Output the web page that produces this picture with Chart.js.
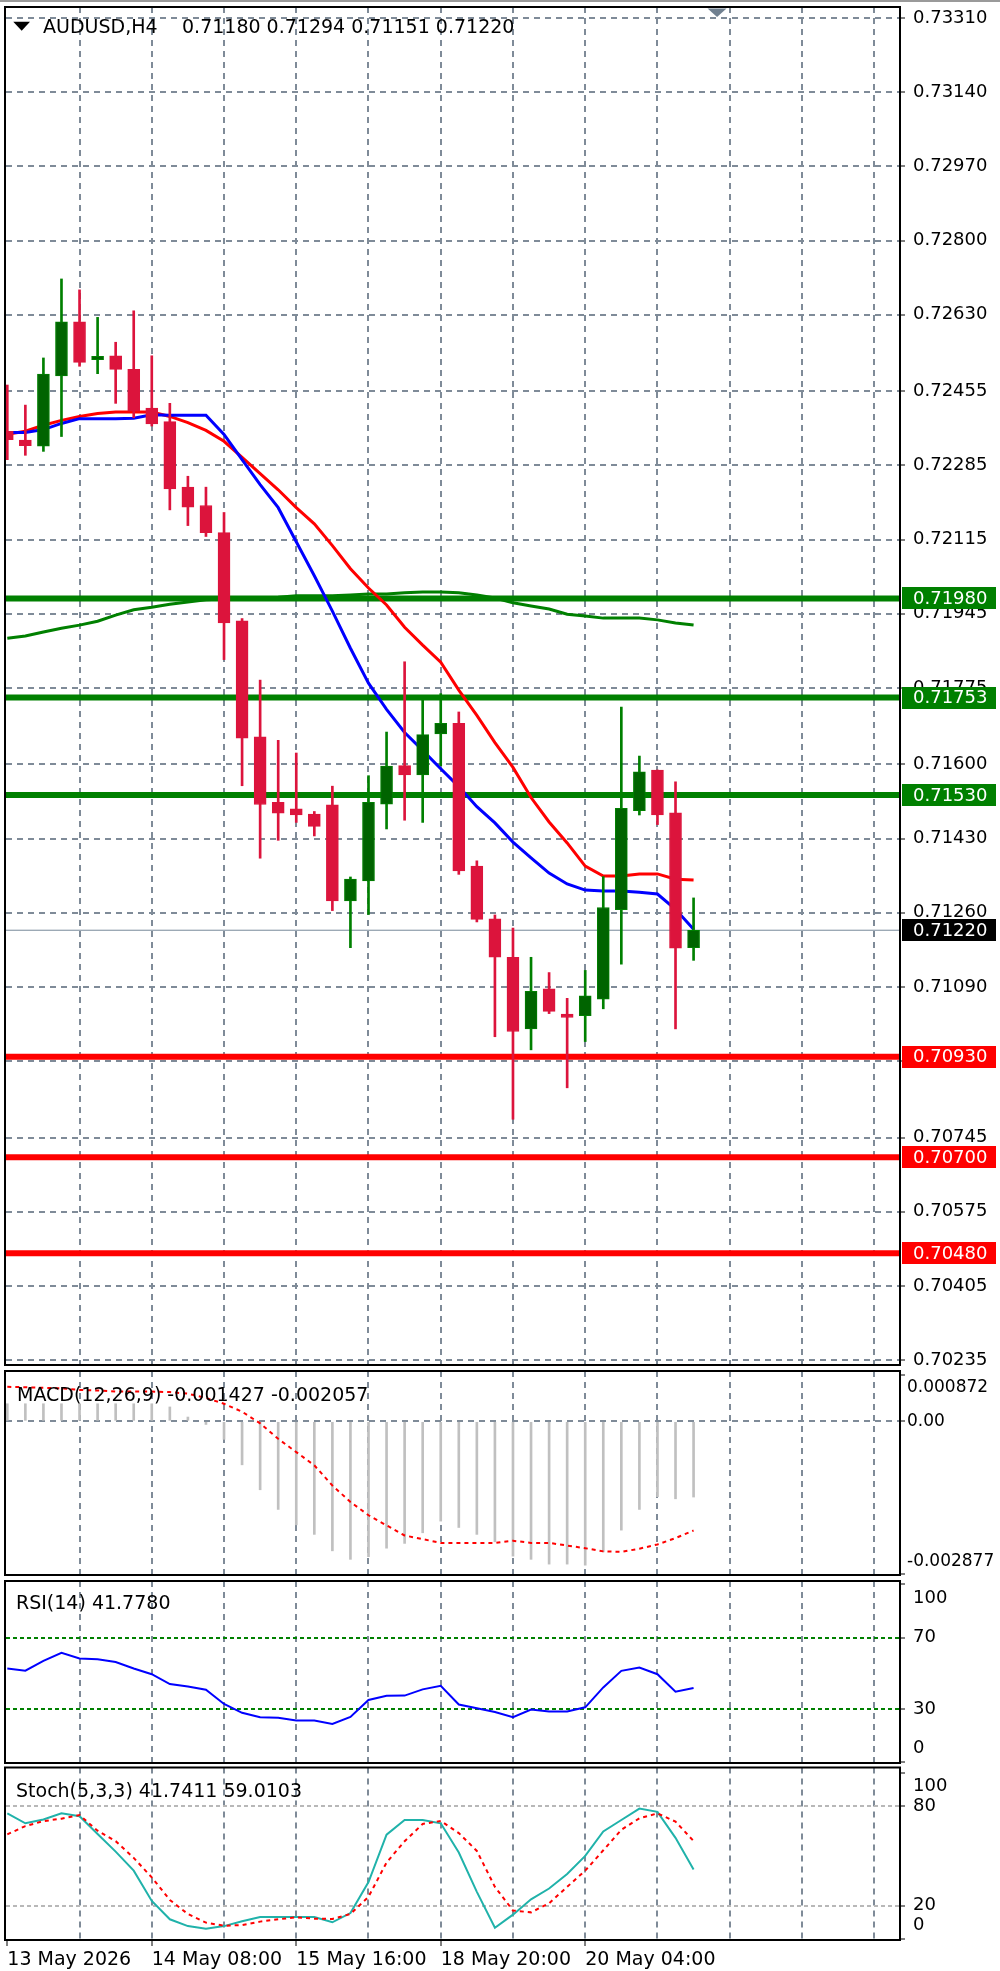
<!DOCTYPE html>
<html>
<head>
<meta charset="utf-8">
<script src="https://cdn.jsdelivr.net/npm/chart.js@4.4.1/dist/chart.umd.min.js"></script>
<style>
  html, body { margin: 0; padding: 0; background: #fff; }
  body { width: 1000px; height: 1971px; position: relative; overflow: hidden; }
  #topbar { position: absolute; left: 0; top: 0; width: 1000px; height: 2px; background: #9a9a9a; }
  canvas { position: absolute; left: 0; }
</style>
</head>
<body>
<div id="topbar"></div>
<canvas id="main" width="1000" height="1368" style="top:0"></canvas>
<canvas id="macd" width="1000" height="210" style="top:1368px"></canvas>
<canvas id="rsi" width="1000" height="187" style="top:1578px"></canvas>
<canvas id="stoch" width="1000" height="206" style="top:1765px"></canvas>
<script>
// AUDUSD H4, 39 candles from 13 May 2026 00:00
const opens  = [0.72363,0.72343,0.72329,0.72490,0.72614,0.72527,0.72536,0.72505,0.72416,0.72385,0.72235,0.72193,0.72131,0.71929,0.71663,0.71513,0.71498,0.71486,0.71507,0.71287,0.71333,0.71509,0.71597,0.71576,0.71670,0.71694,0.71367,0.71246,0.71158,0.70994,0.71086,0.71028,0.71024,0.71062,0.71267,0.71494,0.71587,0.71489,0.71180];
const highs  = [0.72469,0.72423,0.72531,0.72712,0.72687,0.72624,0.72567,0.72639,0.72536,0.72427,0.72260,0.72235,0.72177,0.71934,0.71793,0.71655,0.71626,0.71492,0.71550,0.71342,0.71574,0.71674,0.71835,0.71747,0.71762,0.71720,0.71379,0.71255,0.71225,0.71158,0.71123,0.71064,0.71128,0.71343,0.71731,0.71619,0.71587,0.71560,0.71294];
const lows   = [0.72298,0.72308,0.72317,0.72351,0.72512,0.72495,0.72427,0.72394,0.72375,0.72183,0.72147,0.72122,0.71840,0.71551,0.71385,0.71426,0.71467,0.71436,0.71265,0.71180,0.71256,0.71452,0.71472,0.71467,0.71597,0.71348,0.71239,0.70976,0.70787,0.70946,0.71029,0.70859,0.70965,0.71040,0.71142,0.71484,0.71462,0.70994,0.71151];
const closes = [0.72344,0.72330,0.72494,0.72614,0.72521,0.72535,0.72505,0.72409,0.72380,0.72231,0.72189,0.72131,0.71924,0.71660,0.71508,0.71488,0.71484,0.71458,0.71287,0.71337,0.71513,0.71596,0.71576,0.71668,0.71694,0.71356,0.71245,0.71158,0.70988,0.71080,0.71034,0.71020,0.71070,0.71272,0.71499,0.71583,0.71484,0.71179,0.71220];

// moving averages (blue, red, green)
const maFast = [0.72360,0.72360,0.72367,0.72381,0.72392,0.72392,0.72392,0.72393,0.72401,0.72400,0.72400,0.72400,0.72356,0.72298,0.72241,0.72188,0.72110,0.72032,0.71951,0.71866,0.71786,0.71726,0.71673,0.71632,0.71590,0.71549,0.71503,0.71466,0.71422,0.71386,0.71351,0.71326,0.71312,0.71310,0.71310,0.71307,0.71303,0.71268,0.71222];
const maMid  = [0.72356,0.72363,0.72377,0.72388,0.72397,0.72404,0.72407,0.72407,0.72407,0.72397,0.72383,0.72365,0.72340,0.72303,0.72266,0.72229,0.72188,0.72151,0.72101,0.72048,0.72004,0.71965,0.71914,0.71873,0.71834,0.71770,0.71712,0.71650,0.71593,0.71524,0.71468,0.71420,0.71367,0.71344,0.71344,0.71349,0.71349,0.71337,0.71335];
const maSlow = [0.71889,0.71894,0.71903,0.71912,0.71919,0.71928,0.71942,0.71954,0.71960,0.71967,0.71972,0.71977,0.71979,0.71981,0.71981,0.71983,0.71986,0.71986,0.71986,0.71988,0.71990,0.71990,0.71993,0.71995,0.71995,0.71993,0.71988,0.71981,0.71970,0.71963,0.71956,0.71944,0.71940,0.71935,0.71935,0.71935,0.71931,0.71924,0.71919];

const priceTicks = [0.73310,0.73140,0.72970,0.72800,0.72630,0.72455,0.72285,0.72115,0.71945,0.71775,0.71600,0.71430,0.71260,0.71090,0.70920,0.70745,0.70575,0.70405,0.70235];
const resistLevels = [0.71980, 0.71753, 0.71530];
const supportLevels = [0.70930, 0.70700, 0.70480];
const lastPrice = 0.71220;

const macdMain   = [0.00033,0.00033,0.00033,0.00033,0.00033,0.00033,0.00033,0.00033,0.00033,0.00027,0.00008,-0.00006,-0.00034,-0.00082,-0.00129,-0.00166,-0.00195,-0.00213,-0.00244,-0.00260,-0.00255,-0.00239,-0.00230,-0.00210,-0.00188,-0.00200,-0.00213,-0.00227,-0.00254,-0.00260,-0.00269,-0.00269,-0.00271,-0.00246,-0.00205,-0.00166,-0.00142,-0.00146,-0.001427];
const macdSignal = [0.00065,0.00064,0.00063,0.00062,0.00059,0.00058,0.00056,0.00056,0.00056,0.00055,0.00052,0.00044,0.00033,0.00018,-0.00004,-0.00033,-0.00058,-0.00083,-0.00121,-0.00152,-0.00177,-0.00196,-0.00215,-0.00222,-0.00229,-0.00229,-0.00229,-0.00229,-0.00225,-0.00229,-0.00229,-0.00234,-0.00239,-0.00245,-0.00246,-0.00240,-0.00232,-0.00220,-0.002057];
const macdTicks = [0.000872, 0, -0.002877];

const rsiVals = [52.7,51.5,57,61.5,58.3,57.9,56.4,52.7,49.5,44,42.6,40.8,32.8,27.8,25.3,25,23.5,23.5,21.6,25.5,35,37.4,37.5,41,43,32.5,30.4,28.3,25.3,29.6,28.5,28.5,30.9,42.1,51.4,53.3,49.5,39.7,41.78];
const rsiTicks = [100, 70, 30, 0];

const stochK = [75.7,69.7,72,75.7,74,63.2,52.6,41.1,22.8,11.7,7.6,6,7.6,10.5,13.1,13.1,13.1,13.1,9.9,15.5,34.2,62.8,71.7,71.7,69.7,52,28.3,6.6,14.5,23.8,30.3,39.1,50,64.8,71.7,78.6,76.6,60.9,41.74];
const stochD = [63,68,71,72.5,74.7,65.2,58.9,48.8,37,23.4,14.9,9.7,7.8,8.2,10.3,11.7,12.9,12.1,11.9,14.9,25.3,46,58.9,69.3,71.1,63.8,53,31.3,17,15.9,21.4,31.3,41.1,53.4,65.8,72.7,75.7,70.7,59.01];
const stochTicks = [100, 80, 20, 0];

const dateIdx = [0, 8, 16, 24, 32];
const dateLabels = ['13 May 2026', '14 May 08:00', '15 May 16:00', '18 May 20:00', '20 May 04:00'];

const X_MIN = -0.072, X_MAX = 49.43;
const SHIFT_AT = 39.3;
const gridIdx = [];
for (let v = 0; v <= 48; v += 4) gridIdx.push(v);

const FONT = "'DejaVu Sans', 'Liberation Sans', sans-serif";
const GRID = '#7f8b98';
const NONE = 'rgba(0,0,0,0)';
const BULL = '#006400', BULL_EDGE = '#008000', BEAR = '#dc143c';

Chart.defaults.font.family = FONT;

const pts = arr => arr.map((v, i) => ({ x: i, y: v }));
const hline = v => [{ x: X_MIN, y: v }, { x: X_MAX, y: v }];

function xScale(withLabels) {
  return {
    type: 'linear', min: X_MIN, max: X_MAX, offset: false,
    afterBuildTicks: s => { s.ticks = gridIdx.map(v => ({ value: v })); },
    afterFit: s => { s.height = withLabels ? 31 : 0; s.paddingLeft = 0; s.paddingRight = 0; },
    grid: {
      offset: false, lineWidth: 2,
      color: c => (c.tick && c.tick.value === 0) ? NONE : GRID,
      drawTicks: withLabels, tickLength: 6, tickWidth: 1, tickBorderDash: [],
      tickColor: c => (c.tick && dateIdx.includes(c.tick.value)) ? '#000' : NONE
    },
    border: { display: false, dash: [6, 5] },
    ticks: {
      display: withLabels, autoSkip: false, maxRotation: 0, minRotation: 0,
      align: 'start', padding: 3, color: '#000',
      font: { family: FONT, size: 19, lineHeight: 1.2 },
      callback: v => { const k = dateIdx.indexOf(v); return k >= 0 ? dateLabels[k] : ''; }
    }
  };
}

function yScale(min, max, ticks, fmt, gridColor, dash, size, pad) {
  return {
    position: 'right', min: min, max: max,
    afterBuildTicks: s => { s.ticks = ticks.map(v => ({ value: v })); },
    afterFit: s => { s.width = 100; s.paddingTop = 0; s.paddingBottom = 0; },
    grid: { lineWidth: 2, color: gridColor, tickLength: 5, tickWidth: 1, tickColor: '#000', tickBorderDash: [] },
    border: { display: false, dash: dash },
    ticks: { autoSkip: false, padding: pad || 8, color: '#000', font: { family: FONT, size: size || 18, lineHeight: 1.5 }, callback: fmt }
  };
}

// edge labels sit inside the panel like the terminal does
const edgeLabel = (top, bottom, text) => v => v === top ? ['', text(v)] : v === bottom ? [text(v), ''] : text(v);

function decor(cfg) {
  return {
    id: 'decor',
    afterDatasetsDraw(chart) {
      const { ctx, chartArea: ca } = chart;
      ctx.save();
      if (cfg.menuMark) {
        ctx.fillStyle = '#000';
        ctx.beginPath();
        ctx.moveTo(ca.left + 7.3, ca.top + 14.7);
        ctx.lineTo(ca.left + 24, ca.top + 14.7);
        ctx.lineTo(ca.left + 15.7, ca.top + 23.7);
        ctx.closePath();
        ctx.fill();
      }
      ctx.font = '19px ' + FONT;
      ctx.fillStyle = '#000';
      ctx.textBaseline = 'alphabetic';
      ctx.textAlign = 'left';
      cfg.title.forEach(t => ctx.fillText(t.text, t.x, ca.top + t.dy));
      ctx.restore();
    },
    afterDraw(chart) {
      const { ctx, chartArea: ca } = chart;
      ctx.save();
      ctx.strokeStyle = '#000';
      ctx.lineWidth = 2;
      ctx.strokeRect(ca.left - 1, ca.top, ca.right - ca.left + 1, ca.bottom - ca.top);
      if (cfg.shift) {
        const cx = chart.scales.x.getPixelForValue(SHIFT_AT);
        ctx.fillStyle = '#708090';
        ctx.beginPath();
        ctx.moveTo(cx - 9.5, ca.top + 1.5);
        ctx.lineTo(cx + 9.5, ca.top + 1.5);
        ctx.lineTo(cx, ca.top + 10);
        ctx.closePath();
        ctx.fill();
      }
      (cfg.boxes || []).forEach(b => {
        const y = chart.scales.y.getPixelForValue(b.value);
        ctx.fillStyle = b.bg;
        ctx.fillRect(ca.right + 2, Math.round(y - 11), 94, 22);
        ctx.fillStyle = '#fff';
        ctx.font = '18px ' + FONT;
        ctx.textBaseline = 'middle';
        ctx.fillText(b.value.toFixed(5), ca.right + 13, y + 1);
      });
      ctx.restore();
    }
  };
}

const common = pad => ({
  responsive: false, animation: false, events: [],
  layout: { padding: pad },
  plugins: { legend: { display: false }, tooltip: { enabled: false } }
});

// ---- price chart ----
const bull = closes.map((c, i) => c >= opens[i]);
const levelSets = resistLevels.map(v => ({ type: 'line', data: hline(v), borderColor: '#008000', borderWidth: 6, pointRadius: 0, clip: 0 }))
  .concat(supportLevels.map(v => ({ type: 'line', data: hline(v), borderColor: '#ff0000', borderWidth: 6, pointRadius: 0, clip: 0 })));

new Chart(document.getElementById('main'), {
  type: 'bar',
  data: {
    datasets: [
      { type: 'bar', data: opens.map((o, i) => ({ x: i, y: [o, closes[i]] })),
        backgroundColor: bull.map(b => b ? BULL : BEAR), borderColor: bull.map(b => b ? BULL_EDGE : BEAR),
        borderWidth: 1, borderSkipped: false, barThickness: 12, minBarLength: 2, grouped: false, clip: 0 },
      { type: 'bar', data: lows.map((l, i) => ({ x: i, y: [l, highs[i]] })),
        backgroundColor: bull.map(b => b ? BULL_EDGE : BEAR), borderWidth: 0, barThickness: 2, grouped: false, clip: 0 },
      { type: 'line', data: pts(maFast), borderColor: '#0000ff', borderWidth: 3, pointRadius: 0, tension: 0, clip: 0 },
      { type: 'line', data: pts(maMid), borderColor: '#ff0000', borderWidth: 3, pointRadius: 0, tension: 0, clip: 0 },
      { type: 'line', data: pts(maSlow), borderColor: '#008000', borderWidth: 3, pointRadius: 0, tension: 0, clip: 0 },
      ...levelSets,
      { type: 'line', data: hline(lastPrice), borderColor: '#778899', borderWidth: 1, pointRadius: 0, clip: 0 }
    ]
  },
  options: Object.assign(common({ left: 6, right: 0, top: 7, bottom: 3 }), {
    scales: {
      x: xScale(false),
      y: yScale(0.70224, 0.73335, priceTicks, v => v.toFixed(5), GRID, [6, 5])
    }
  }),
  plugins: [decor({
    menuMark: true, shift: true,
    title: [{ text: 'AUDUSD,H4', x: 43, dy: 26 }, { text: '0.71180 0.71294 0.71151 0.71220', x: 182, dy: 26 }],
    boxes: resistLevels.map(v => ({ value: v, bg: '#008000' }))
      .concat(supportLevels.map(v => ({ value: v, bg: '#ff0000' })))
      .concat([{ value: lastPrice, bg: '#000' }])
  })]
});

// ---- MACD ----
new Chart(document.getElementById('macd'), {
  type: 'bar',
  data: {
    datasets: [
      { type: 'line', data: pts(macdSignal), borderColor: '#ff0000', borderWidth: 2, borderDash: [4, 4], pointRadius: 0, tension: 0, clip: 0 },
      { type: 'bar', data: pts(macdMain), backgroundColor: '#c0c0c0', borderWidth: 0, barThickness: 2, grouped: false, clip: 0 }
    ]
  },
  options: Object.assign(common({ left: 6, right: 0, top: 3, bottom: 3 }), {
    scales: {
      x: xScale(false),
      y: yScale(-0.002895, 0.000947, macdTicks,
        edgeLabel(macdTicks[0], macdTicks[2], v => v === 0 ? '0.00' : v.toFixed(6)),
        c => c.tick && c.tick.value === 0 ? GRID : NONE, [6, 5], 17, 2)
    }
  }),
  plugins: [decor({ title: [{ text: 'MACD(12,26,9) -0.001427 -0.002057', x: 17, dy: 30 }] })]
});

// ---- RSI ----
new Chart(document.getElementById('rsi'), {
  type: 'line',
  data: {
    datasets: [
      { data: pts(rsiVals), borderColor: '#0000ff', borderWidth: 2, pointRadius: 0, tension: 0, clip: 0 }
    ]
  },
  options: Object.assign(common({ left: 6, right: 0, top: 3, bottom: 2 }), {
    scales: {
      x: xScale(false),
      y: yScale(-0.4, 101.9, rsiTicks, edgeLabel(100, 0, v => String(v)),
        c => c.tick && (c.tick.value === 70 || c.tick.value === 30) ? '#008000' : NONE, [4, 3])
    }
  }),
  plugins: [decor({ title: [{ text: 'RSI(14) 41.7780', x: 16, dy: 28 }] })]
});

// ---- Stochastic ----
new Chart(document.getElementById('stoch'), {
  type: 'line',
  data: {
    datasets: [
      { data: pts(stochD), borderColor: '#ff0000', borderWidth: 2, borderDash: [4, 4], pointRadius: 0, tension: 0, clip: 0 },
      { data: pts(stochK), borderColor: '#20b2aa', borderWidth: 2, pointRadius: 0, tension: 0, clip: 0 }
    ]
  },
  options: Object.assign(common({ left: 6, right: 0, top: 2.5, bottom: 0 }), {
    scales: {
      x: xScale(true),
      y: yScale(-0.8, 103.4, stochTicks, edgeLabel(100, 0, v => String(v)),
        c => c.tick && (c.tick.value === 80 || c.tick.value === 20) ? '#b8b8b8' : NONE, [4, 3])
    }
  }),
  plugins: [decor({ title: [{ text: 'Stoch(5,3,3) 41.7411 59.0103', x: 16, dy: 29.5 }] })]
});
</script>
</body>
</html>
